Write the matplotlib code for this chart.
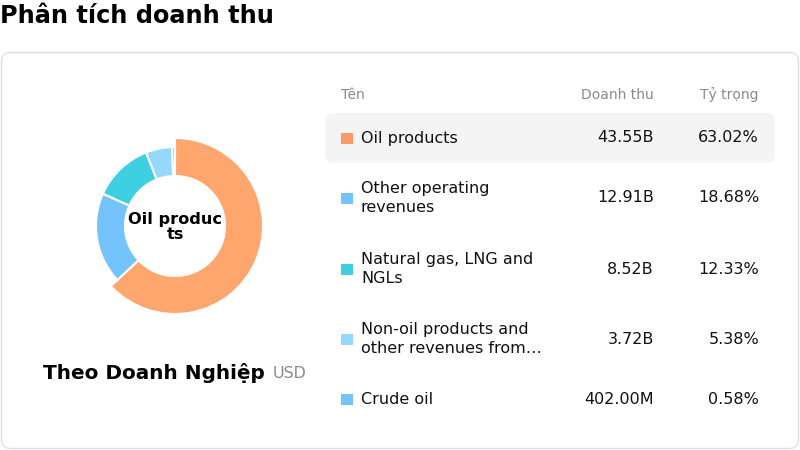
import matplotlib.pyplot as plt
from matplotlib.patches import FancyBboxPatch, Rectangle

plt.rcParams['font.family'] = ['DejaVu Sans']

names = ['Oil products', 'Other operating\nrevenues', 'Natural gas, LNG and\nNGLs',
         'Non-oil products and\nother revenues from…', 'Crude oil']
revenue = [43.55e9, 12.91e9, 8.52e9, 3.72e9, 402.00e6]
revenue_labels = ['43.55B', '12.91B', '8.52B', '3.72B', '402.00M']
share_labels = ['63.02%', '18.68%', '12.33%', '5.38%', '0.58%']

pie_colors = ['#FFA66F', '#74C3FC', '#3ECFE3', '#96D8FB', '#74C3FC']
box_colors = ['#F89A68', '#74C3FC', '#3ECFE3', '#96D8FB', '#74C3FC']

W, H = 800, 450
fig = plt.figure(figsize=(8, 4.5), dpi=100)
fig.patch.set_facecolor('white')

# background axes in pixel coordinates
bg = fig.add_axes([0, 0, 1, 1])
bg.set_xlim(0, W)
bg.set_ylim(H, 0)
bg.axis('off')

bg.text(0, 16, 'Phân tích doanh thu', fontsize=17.3, fontweight='bold',
        va='center', ha='left', color='#000000')

card = FancyBboxPatch((1.5, 52.5), 797, 396, boxstyle='round,pad=0,rounding_size=9',
                      facecolor='white', edgecolor='#E0DEEA', linewidth=1)
bg.add_patch(card)

# table header
hdr_y = 95
bg.text(341, hdr_y, 'Tên', fontsize=10, color='#8A8A8A', va='center', ha='left')
bg.text(654, hdr_y, 'Doanh thu', fontsize=10, color='#8A8A8A', va='center', ha='right')
bg.text(759, hdr_y, 'Tỷ trọng', fontsize=10, color='#8A8A8A', va='center', ha='right')

row_y = [138, 198, 269, 339, 399]
hl = FancyBboxPatch((325, 113), 450, 50, boxstyle='round,pad=0,rounding_size=9',
                    facecolor='#F4F4F4', edgecolor='none')
bg.add_patch(hl)

for i, y in enumerate(row_y):
    bg.add_patch(Rectangle((341, y - 5.5), 11.5, 11.5, facecolor=box_colors[i], edgecolor='none'))
    bg.text(361, y, names[i], fontsize=11.5, color='#111111', va='center', ha='left',
            linespacing=1.3)
    bg.text(654, y, revenue_labels[i], fontsize=11.5, color='#111111', va='center', ha='right')
    bg.text(759, y, share_labels[i], fontsize=11.5, color='#111111', va='center', ha='right')

bg.text(43, 373, 'Theo Doanh Nghiệp', fontsize=14.4, fontweight='bold', color='#000000',
        va='center', ha='left')
bg.text(273, 373, 'USD', fontsize=11.4, color='#8A8A8A', va='center', ha='left')

# donut
cx, cy, size = 175, 226, 200
ax = fig.add_axes([(cx - size / 2) / W, (H - cy - size / 2) / H, size / W, size / H])
ax.set_xlim(-100, 100)
ax.set_ylim(-100, 100)
ax.set_aspect('equal')
ax.axis('off')

wedges, _ = ax.pie(revenue, colors=pie_colors, startangle=90, counterclock=False,
                   radius=79, wedgeprops=dict(width=29, edgecolor='white', linewidth=1.5))
# active slice drawn larger
wedges[0].set_radius(88)
wedges[0].set_width(38)
ax.set_xlim(-100, 100)
ax.set_ylim(-100, 100)

ax.text(0, -1, 'Oil produc\nts', fontsize=11.6, fontweight='bold', ha='center', va='center',
        linespacing=0.95, color='#000000')

fig.savefig('out.png', dpi=100, facecolor='white')
